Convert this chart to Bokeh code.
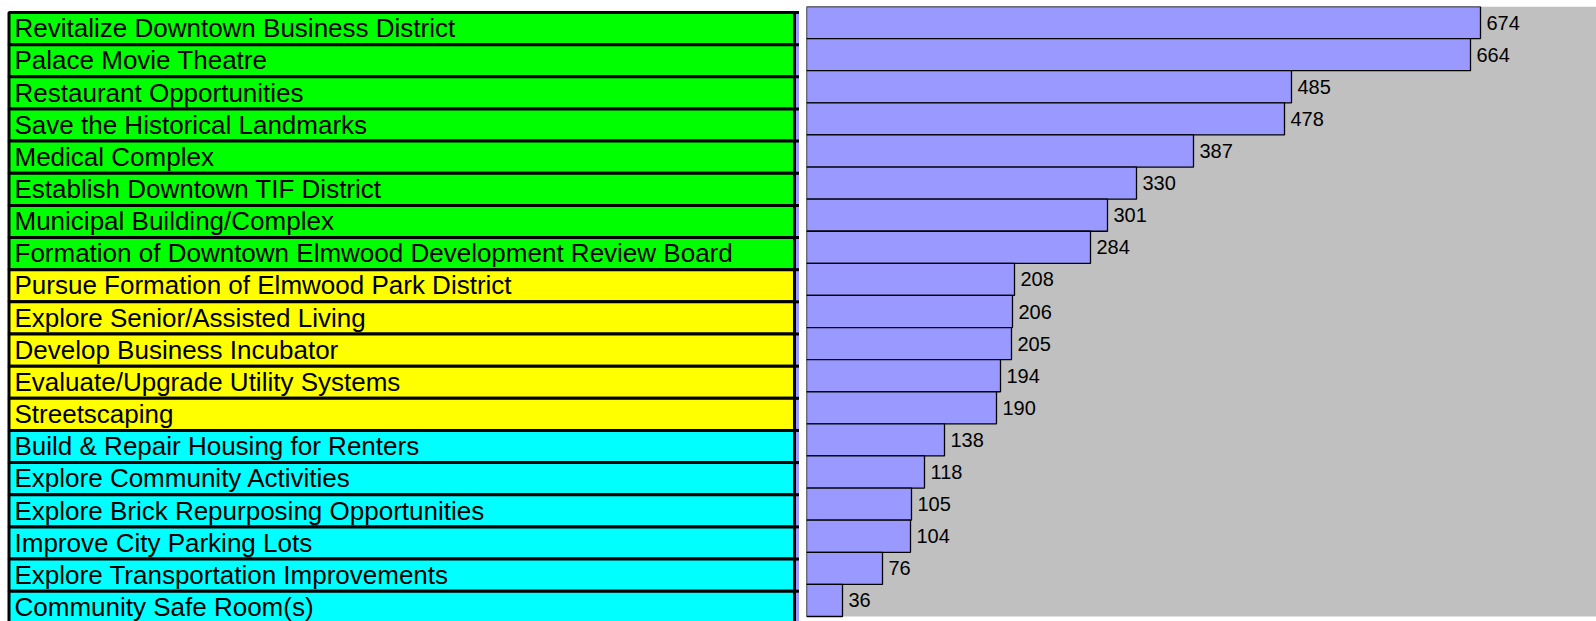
from bokeh.plotting import figure
from bokeh.layouts import row
from bokeh.models import Range1d, ColumnDataSource
from bokeh.core.properties import value
from bokeh.embed import file_html
from bokeh.resources import INLINE

categories = [
    "Revitalize Downtown Business District",
    "Palace Movie Theatre",
    "Restaurant Opportunities",
    "Save the Historical Landmarks",
    "Medical Complex",
    "Establish Downtown TIF District",
    "Municipal Building/Complex",
    "Formation of Downtown Elmwood Development Review Board",
    "Pursue Formation of Elmwood Park District",
    "Explore Senior/Assisted Living",
    "Develop Business Incubator",
    "Evaluate/Upgrade Utility Systems",
    "Streetscaping",
    "Build & Repair Housing for Renters",
    "Explore Community Activities",
    "Explore Brick Repurposing Opportunities",
    "Improve City Parking Lots",
    "Explore Transportation Improvements",
    "Community Safe Room(s)",
]
votes = [674, 664, 485, 478, 387, 330, 301, 284, 208, 206, 205, 194, 190,
         138, 118, 105, 104, 76, 36]
tiers = ["green", "green", "green", "green", "green", "green", "green", "green",
         "yellow", "yellow", "yellow", "yellow", "yellow",
         "cyan", "cyan", "cyan", "cyan", "cyan", "cyan"]
tier_colors = {"green": "#00FF00", "yellow": "#FFFF00", "cyan": "#00FFFF"}

FONT = "Liberation Sans"
H = 621
N = len(categories)
idx = list(range(N))
FRAME_TOP = 6

# ---------- left: colored table ----------
LW = 799
row_h = 32.15
table_top_px = 12
y_end = -0.5 - (table_top_px - FRAME_TOP) / row_h
y_start = y_end + (H - FRAME_TOP) / row_h

left = figure(width=LW, height=H, output_backend="svg", toolbar_location=None,
              x_range=Range1d(0, LW), y_range=Range1d(start=y_start, end=y_end),
              min_border_left=0, min_border_right=0,
              min_border_top=FRAME_TOP, min_border_bottom=0,
              x_axis_location=None, y_axis_location=None)
left.grid.visible = False
left.outline_line_color = None
left.background_fill_color = "white"
left.border_fill_color = "white"

tsrc = ColumnDataSource(dict(
    top=[i - 0.5 for i in idx],
    bottom=[i + 0.5 for i in idx],
    color=[tier_colors[t] for t in tiers],
    name=categories,
    ty=[i - 0.01 for i in idx],
))
# thin strip between table and chart
left.quad(left=794, right=799, top=-0.5, bottom=N - 0.5,
          fill_color="#9999FF", line_color=None)
left.segment(x0=794, x1=799, y0=[i - 0.5 for i in idx] + [N - 0.5],
             y1=[i - 0.5 for i in idx] + [N - 0.5],
             line_color="black", line_width=3)
left.quad(left=8.5, right=794, top="top", bottom="bottom", source=tsrc,
          fill_color="color", line_color="black", line_width=3)
left.text(x=14, y="ty", text="name", source=tsrc,
          text_font=value(FONT), text_font_size="26px",
          text_baseline="middle", text_align="left", text_color="black")

# ---------- right: bar chart ----------
RW = 1596 - LW
X_MAX = 790
row_h_r = 610 / N
ry_end = -0.5
ry_start = ry_end + (H - FRAME_TOP) / row_h_r
right = figure(width=RW, height=H, output_backend="svg", toolbar_location=None,
               x_range=Range1d(0, X_MAX), y_range=Range1d(start=ry_start, end=ry_end),
               min_border_left=7, min_border_right=0,
               min_border_top=FRAME_TOP, min_border_bottom=0,
               x_axis_location=None, y_axis_location=None)
right.grid.visible = False
right.outline_line_color = None
right.background_fill_color = "white"
right.border_fill_color = "white"

# plot area (gray) spanning the category axis
right.quad(left=0, right=X_MAX, top=-0.5, bottom=N - 0.5,
           fill_color="#C0C0C0", line_color=None)

bsrc = ColumnDataSource(dict(y=idx, v=votes, lab=[str(v) for v in votes]))
right.hbar(y="y", left=0, right="v", height=1.0, source=bsrc,
           fill_color="#9999FF", line_color="black", line_width=1.3)
right.text(x="v", y="y", text="lab", source=bsrc, x_offset=6,
           text_font=value(FONT), text_font_size="20px",
           text_baseline="middle", text_align="left", text_color="black")

layout = row(left, right, spacing=0)
open("out.html", "w").write(file_html(layout, INLINE))
